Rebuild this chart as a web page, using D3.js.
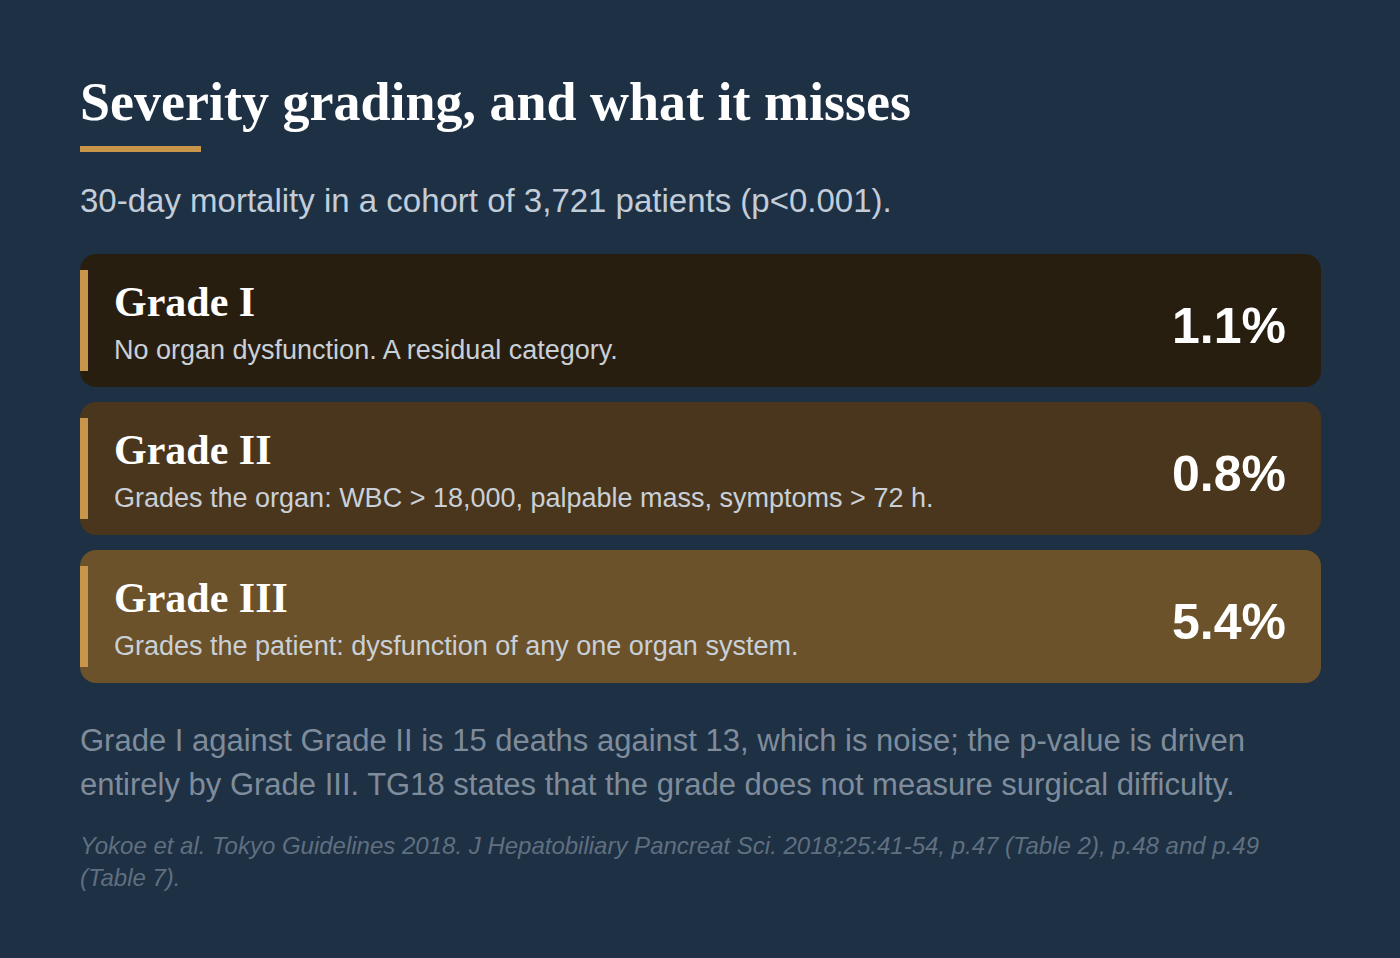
<!DOCTYPE html>
<html>
<head>
<meta charset="utf-8">
<script src="https://cdn.jsdelivr.net/npm/d3@7"></script>
<style>
  html, body { margin: 0; padding: 0; background: #1e3044; }
</style>
</head>
<body>
<script>
// data
const grades = ['Grade I', 'Grade II', 'Grade III'];
const descriptions = [
  'No organ dysfunction. A residual category.',
  'Grades the organ: WBC > 18,000, palpable mass, symptoms > 72 h.',
  'Grades the patient: dysfunction of any one organ system.'
];
const mortality = [1.1, 0.8, 5.4];
const cardColors = ['#281e10', '#4a361c', '#6c522a'];

const title = 'Severity grading, and what it misses';
const subtitle = '30-day mortality in a cohort of 3,721 patients (p<0.001).';
const noteLines = [
  'Grade I against Grade II is 15 deaths against 13, which is noise; the p-value is driven',
  'entirely by Grade III. TG18 states that the grade does not measure surgical difficulty.'
];
const sourceLines = [
  'Yokoe et al. Tokyo Guidelines 2018. J Hepatobiliary Pancreat Sci. 2018;25:41-54, p.47 (Table 2), p.48 and p.49',
  '(Table 7).'
];

const width = 1400, height = 958;
const left = 80, right = 1321;
const serif = '"Liberation Serif", "Times New Roman", serif';
const sans = '"Liberation Sans", Arial, sans-serif';

const svg = d3.select('body')
  .append('svg')
    .attr('width', width)
    .attr('height', height);

svg.append('rect')
  .attr('width', width)
  .attr('height', height)
  .attr('fill', '#1e3044');

// header
svg.append('text')
  .attr('x', left)
  .attr('y', 120)
  .attr('font-family', serif)
  .attr('font-weight', 'bold')
  .attr('font-size', 54)
  .attr('fill', '#ffffff')
  .text(title);

svg.append('rect')
  .attr('x', left)
  .attr('y', 146)
  .attr('width', 121)
  .attr('height', 6)
  .attr('fill', '#c8954a');

svg.append('text')
  .attr('x', left)
  .attr('y', 212)
  .attr('font-family', sans)
  .attr('font-size', 33)
  .attr('fill', '#c2cdd9')
  .text(subtitle);

// cards
const y = d3.scaleBand()
  .domain(grades)
  .range([254, 683])
  .paddingInner(15 / 148);

const rows = grades.map((g, i) => ({
  grade: g, desc: descriptions[i], value: mortality[i], color: cardColors[i]
}));

const card = svg.append('g').attr('class', 'cards')
  .selectAll('g')
  .data(rows)
  .enter().append('g')
    .attr('transform', d => 'translate(' + left + ',' + y(d.grade) + ')');

card.append('rect')
  .attr('width', right - left)
  .attr('height', y.bandwidth())
  .attr('rx', 16)
  .attr('fill', d => d.color);

card.append('rect')
  .attr('x', 0)
  .attr('y', 16)
  .attr('width', 8)
  .attr('height', y.bandwidth() - 32)
  .attr('fill', '#c8954a');

card.append('text')
  .attr('x', 34)
  .attr('y', 62)
  .attr('font-family', serif)
  .attr('font-weight', 'bold')
  .attr('font-size', 42)
  .attr('fill', '#ffffff')
  .text(d => d.grade);

card.append('text')
  .attr('x', 34)
  .attr('y', 105)
  .attr('font-family', sans)
  .attr('font-size', 27)
  .attr('fill', '#c9d0d8')
  .text(d => d.desc);

card.append('text')
  .attr('x', right - left - 35)
  .attr('y', 89)
  .attr('text-anchor', 'end')
  .attr('font-family', sans)
  .attr('font-weight', 'bold')
  .attr('font-size', 50)
  .attr('fill', '#ffffff')
  .text(d => d.value.toFixed(1) + '%');

// notes
svg.append('g')
  .selectAll('text')
  .data(noteLines)
  .enter().append('text')
    .attr('x', left)
    .attr('y', (d, i) => 751 + i * 44)
    .attr('font-family', sans)
    .attr('font-size', 31)
    .attr('fill', '#7e8c9b')
    .text(d => d);

svg.append('g')
  .selectAll('text')
  .data(sourceLines)
  .enter().append('text')
    .attr('x', left)
    .attr('y', (d, i) => 854 + i * 32)
    .attr('font-family', sans)
    .attr('font-style', 'italic')
    .attr('font-size', 24)
    .attr('fill', '#5f6f80')
    .text(d => d);
</script>
</body>
</html>
